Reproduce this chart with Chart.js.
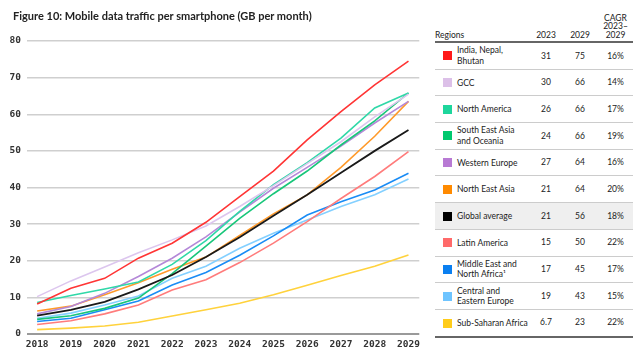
<!DOCTYPE html>
<html>
<head>
<meta charset="utf-8">
<script src="https://cdn.jsdelivr.net/npm/chart.js@4.4.1/dist/chart.umd.min.js"></script>
<style>
    html, body {
        margin: 0;
        padding: 0;
        background: #fff;
    }

    #wrap {
        position: relative;
        width: 640px;
        height: 353px;
        overflow: hidden;
    }

    #title {
        position: absolute;
        left: 13px;
        top: 9px;
        font: bold 11px Lato, sans-serif;
        color: #222;
        white-space: nowrap;
    }

    #chartBox {
        position: absolute;
        left: 0;
        top: 0;
        width: 425px;
        height: 353px;
    }

    #regionTable {
        position: absolute;
        left: 435px;
        top: 10px;
        width: 198px;
        table-layout: fixed;
        border-collapse: collapse;
        font: 8.5px Lato, sans-serif;
        color: #222;
    }

    #regionTable th {
        font-weight: normal;
        text-align: center;
        vertical-align: bottom;
        line-height: 8.5px;
        padding: 0 0 2px 0;
        height: 29px;
        border-bottom: 2px solid #666;
    }

    #regionTable th.name {
        text-align: left;
    }

    #regionTable td {
        height: 25.7px;
        padding: 0;
        border-bottom: 1px solid #ccc;
        text-align: center;
        line-height: 10.5px;
    }

    #regionTable tr:last-child td {
        border-bottom: 2px solid #666;
    }

    #regionTable tr.global td {
        background: #efefef;
    }

    #regionTable td.name {
        text-align: left;
        white-space: nowrap;
    }

    .swatch {
        display: inline-block;
        width: 9px;
        height: 9px;
        margin: 0 5px 0 8px;
        vertical-align: middle;
    }

    .label {
        display: inline-block;
        vertical-align: middle;
    }
</style>
</head>
<body>
<div id="wrap">
    <div id="chartBox"><canvas id="trafficChart"></canvas></div>
    <div id="title">Figure 10: Mobile data traffic per smartphone (GB per month)</div>
    <table id="regionTable">
        <colgroup>
            <col style="width:95px">
            <col style="width:32px">
            <col style="width:36px">
            <col style="width:35px">
        </colgroup>
        <thead>
            <tr>
                <th class="name">Regions</th>
                <th>2023</th>
                <th>2029</th>
                <th>CAGR<br>2023–<br>2029</th>
            </tr>
        </thead>
        <tbody></tbody>
    </table>
</div>

<script>
const years = [2018, 2019, 2020, 2021, 2022, 2023, 2024, 2025, 2026, 2027, 2028, 2029];
const yTicks = [0, 10, 20, 30, 40, 50, 60, 70, 80];

const india = [8.2, 12.5, 15.2, 20.7, 24.8, 30.5, 37.5, 44.5, 53, 60.7, 68, 74.5];
const gcc = [10.2, 14.5, 18.3, 22.2, 25.7, 29.5, 34.8, 40.5, 46.5, 52.5, 59.3, 65.5];
const northAmerica = [8.6, 10.5, 12.3, 14.2, 19, 25.5, 33.5, 40.8, 46.8, 53.5, 61.7, 65.8];
const southEastAsia = [4.0, 5.0, 7.0, 9.8, 16.5, 24, 31.6, 38.3, 44.5, 51.6, 58.2, 65.8];
const westernEurope = [5.5, 7.5, 11.1, 15.7, 20.7, 26.5, 33.3, 39.8, 45.5, 51.3, 57.6, 63.5];
const northEastAsia = [6.3, 7.6, 10.7, 14.0, 17.7, 21, 26.9, 32.8, 38, 45.5, 54, 63.5];
const globalAverage = [5.0, 6.6, 8.8, 12.2, 16.1, 21, 26.4, 32.3, 38, 44, 50, 55.7];
const latinAmerica = [2.6, 3.6, 5.5, 7.9, 12.0, 14.8, 19.5, 24.8, 30.7, 37, 43, 49.8];
const middleEast = [3.4, 4.3, 6.6, 9.0, 13.4, 16.8, 21.5, 26.8, 32.5, 36.1, 39.3, 43.9];
const centralEurope = [4.3, 5.7, 7.9, 10.4, 15.2, 18.5, 23.4, 27.5, 31.1, 34.8, 38, 42.3];
const subSaharan = [1.2, 1.6, 2.2, 3.2, 4.9, 6.6, 8.4, 10.7, 13.3, 16, 18.5, 21.6];

// table columns
const regionNames = ['India, Nepal,<br>Bhutan', 'GCC', 'North America', 'South East Asia<br>and Oceania',
    'Western Europe', 'North East Asia', 'Global average', 'Latin America',
    'Middle East and<br>North Africa¹', 'Central and<br>Eastern Europe', 'Sub-Saharan Africa'];
const values2023 = ['31', '30', '26', '24', '27', '21', '21', '15', '17', '19', '6.7'];
const values2029 = ['75', '66', '66', '66', '64', '64', '56', '50', '45', '43', '23'];
const cagr = ['16%', '14%', '17%', '19%', '16%', '20%', '18%', '22%', '17%', '15%', '22%'];

const swatchColors = ['#ff1a1a', '#dcc0e8', '#1ed69c', '#00c96e', '#b87ad4', '#ff8a00',
    '#000000', '#ff6a6a', '#0a7ff0', '#6ec4ff', '#ffcc1a'];
const lineColors = ['#ff3535', '#dcc6ee', '#30d8a8', '#18c67a', '#b488d8', '#ff9a2a',
    '#1a1a1a', '#ff7c7c', '#1a8cf5', '#84d0ff', '#ffd23c'];

const seriesData = [india, gcc, northAmerica, southEastAsia, westernEurope, northEastAsia,
    globalAverage, latinAmerica, middleEast, centralEurope, subSaharan];

function buildTable() {
    const body = document.querySelector('#regionTable tbody');

    regionNames.forEach(function (name, i) {
        const row = document.createElement('tr');

        if (i === 6) {
            row.className = 'global';
        }

        row.innerHTML =
            '<td class="name"><span class="swatch" style="background:' + swatchColors[i] + '"></span>' +
            '<span class="label">' + name + '</span></td>' +
            '<td>' + values2023[i] + '</td>' +
            '<td>' + values2029[i] + '</td>' +
            '<td>' + cagr[i] + '</td>';

        body.appendChild(row);
    });
}

function buildDatasets() {
    // global average drawn on top
    return seriesData.map(function (values, i) {
        return {
            label: regionNames[i].replace('<br>', ' '),
            data: values.map(function (v, j) {
                return { x: years[j], y: v };
            }),
            borderColor: lineColors[i],
            backgroundColor: lineColors[i],
            borderWidth: i === 6 ? 1.8 : 1.6,
            pointRadius: 0,
            tension: 0,
            fill: false,
            order: i === 6 ? 0 : 1
        };
    });
}

function initTrafficChart() {
    const ctx = document.getElementById('trafficChart').getContext('2d');

    new Chart(ctx, {
        type: 'line',
        data: {
            datasets: buildDatasets()
        },
        options: {
            responsive: true,
            maintainAspectRatio: false,
            animation: false,
            layout: {
                padding: { top: 41, right: 3, left: 0, bottom: 0 }
            },
            plugins: {
                legend: { display: false },
                tooltip: { enabled: false }
            },
            scales: {
                x: {
                    type: 'linear',
                    min: 2017.7,
                    max: 2029.32,
                    afterBuildTicks: function (axis) {
                        axis.ticks = years.map(function (v) { return { value: v }; });
                    },
                    afterFit: function (axis) {
                        axis.height = 19;
                    },
                    grid: { display: false, drawTicks: false },
                    border: { display: false },
                    ticks: {
                        padding: 5,
                        color: '#333',
                        font: { family: 'DejaVu Sans Mono', size: 9.5, weight: 'bold' },
                        callback: function (v) { return String(v); }
                    }
                },
                y: {
                    min: 0,
                    max: 80,
                    afterBuildTicks: function (axis) {
                        axis.ticks = yTicks.map(function (v) { return { value: v }; });
                    },
                    afterFit: function (axis) {
                        axis.width = 27;
                    },
                    grid: {
                        drawTicks: false,
                        color: function (c) { return c.tick && c.tick.value === 0 ? '#9a9a9a' : '#cfcfcf'; },
                        lineWidth: function (c) { return c.tick && c.tick.value === 0 ? 2 : 1.5; }
                    },
                    border: { display: false },
                    ticks: {
                        padding: 6,
                        color: '#333',
                        font: { family: 'DejaVu Sans Mono', size: 9.5, weight: 'bold' }
                    }
                }
            }
        }
    });
}

buildTable();
initTrafficChart();
</script>
</body>
</html>
